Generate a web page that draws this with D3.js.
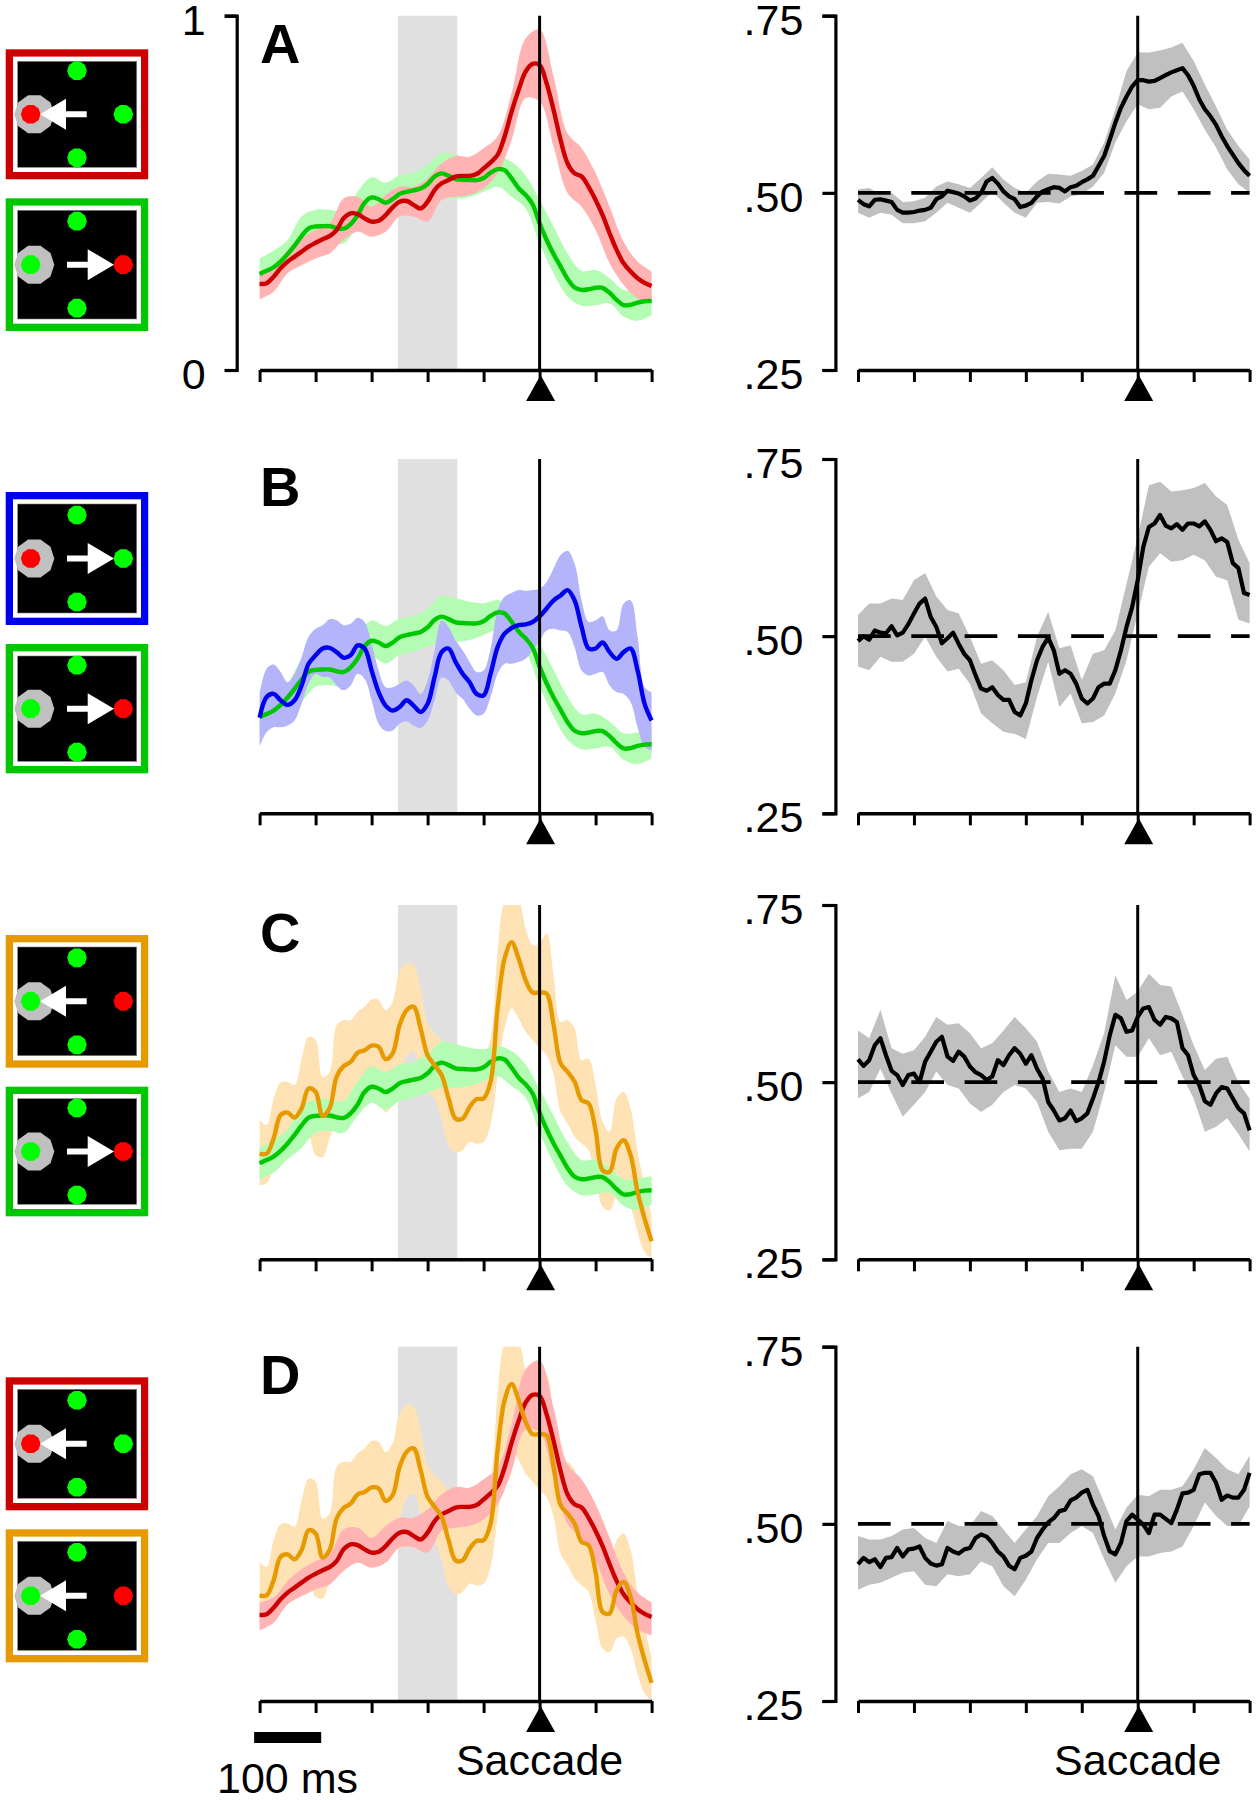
<!DOCTYPE html>
<html>
<head>
<meta charset="utf-8">
<script src="https://cdn.jsdelivr.net/npm/d3@7"></script>
<style>
html, body { margin: 0; padding: 0; background: #fff; }
svg { display: block; }
text { font-family: "Liberation Sans", Arial, sans-serif; fill: #000; }
</style>
</head>
<body>
<svg id="chart" width="1257" height="1800"></svg>
<script>
// time is in tick units, saccade onset = 0
var tickValues = [-5, -4, -3, -2, -1, 0, 1, 2];
var shadeStart = -2.53, shadeEnd = -1.47;
var barStart = -5.098, barEnd = -3.9;
var leftTicks = [0, 1], leftLabels = ["0", "1"];
var rightTicks = [0.25, 0.5, 0.75], rightLabels = [".25", ".50", ".75"];
var letters = ["A", "B", "C", "D"];

var greenMean = [.271,.280,.290,.306,.327,.351,.378,.400,.405,.406,.406,.401,.399,.412,.437,.472,.487,.482,.472,.482,.497,.503,.507,.512,.525,.546,.555,.548,.539,.537,.536,.536,.542,.557,.567,.564,.541,.513,.494,.468,.414,.367,.327,.292,.257,.233,.226,.228,.232,.232,.218,.198,.183,.184,.190,.194,.195];
var greenHi = [.315,.337,.367,.433,.452,.452,.447,.503,.544,.529,.550,.557,.579,.613,.607,.597,.593,.602,.588,.550,.480,.405,.329,.280,.282,.259,.226,.228,.235];
var greenLo = [.226,.245,.282,.315,.357,.362,.357,.405,.442,.423,.447,.456,.470,.484,.484,.489,.503,.517,.489,.456,.357,.273,.207,.181,.183,.188,.151,.139,.155];

var redMean = [.243,.245,.263,.287,.306,.320,.334,.348,.359,.369,.378,.395,.428,.442,.440,.428,.419,.421,.437,.459,.475,.477,.466,.456,.475,.508,.527,.536,.546,.548,.548,.553,.569,.586,.607,.659,.729,.790,.842,.864,.861,.809,.734,.649,.583,.555,.546,.517,.480,.437,.386,.339,.301,.278,.259,.246,.237];
var redHi = [.278,.292,.339,.372,.395,.414,.484,.489,.461,.494,.517,.517,.541,.583,.604,.602,.626,.659,.781,.936,.961,.828,.668,.626,.555,.461,.362,.306,.278];
var redLo = [.199,.221,.273,.296,.315,.329,.367,.390,.376,.390,.433,.433,.419,.480,.489,.494,.513,.555,.649,.767,.757,.630,.499,.461,.395,.301,.240,.202,.186];

var blueMean = [.270,.328,.337,.319,.306,.319,.361,.422,.446,.465,.467,.455,.439,.446,.474,.465,.403,.342,.304,.290,.300,.319,.304,.286,.309,.385,.455,.465,.427,.394,.370,.337,.333,.394,.469,.507,.523,.531,.533,.540,.556,.578,.601,.615,.630,.601,.526,.465,.465,.482,.455,.436,.455,.465,.403,.309,.262];
var blueHi = [.337,.408,.420,.399,.370,.394,.441,.498,.521,.531,.548,.545,.531,.535,.552,.540,.479,.403,.356,.356,.366,.375,.361,.337,.375,.460,.545,.526,.488,.460,.427,.399,.403,.465,.573,.611,.622,.630,.628,.630,.634,.653,.691,.729,.741,.705,.601,.540,.545,.556,.516,.516,.592,.601,.498,.356,.342];
var blueLo = [.189,.229,.243,.243,.248,.262,.309,.366,.394,.385,.383,.361,.347,.361,.394,.380,.319,.253,.232,.234,.253,.260,.248,.241,.262,.319,.383,.375,.342,.323,.295,.276,.281,.328,.394,.422,.422,.427,.436,.460,.488,.516,.521,.516,.512,.469,.403,.389,.394,.399,.361,.342,.337,.314,.243,.187,.177];

var orangeMean = [.298,.298,.341,.407,.414,.400,.426,.482,.473,.405,.426,.515,.545,.557,.583,.590,.603,.600,.565,.581,.661,.703,.713,.652,.576,.548,.520,.454,.397,.397,.430,.452,.454,.501,.708,.849,.895,.849,.788,.753,.753,.750,.661,.553,.529,.501,.449,.440,.364,.251,.247,.313,.336,.294,.190,.115,.051];
var orangeHi = [.393,.379,.454,.499,.501,.492,.567,.628,.619,.515,.529,.661,.675,.675,.699,.713,.734,.732,.703,.727,.812,.835,.831,.765,.666,.637,.619,.586,.492,.501,.572,.581,.576,.623,.868,1.009,1.028,1.014,.934,.887,.892,.920,.802,.670,.675,.652,.562,.567,.492,.388,.360,.454,.473,.426,.303,.209,.124];
var orangeLo = [.209,.214,.256,.313,.327,.313,.331,.346,.294,.289,.341,.397,.416,.430,.444,.444,.454,.440,.416,.435,.510,.572,.586,.529,.473,.454,.397,.322,.301,.308,.331,.326,.331,.379,.520,.652,.708,.680,.642,.619,.595,.576,.520,.416,.383,.346,.327,.308,.228,.148,.138,.176,.181,.148,.077,.021,.002];

var prefA = [.490,.484,.481,.490,.491,.489,.487,.476,.472,.472,.473,.475,.476,.479,.491,.495,.503,.501,.499,.495,.489,.492,.500,.516,.521,.513,.502,.495,.491,.480,.482,.486,.495,.502,.505,.508,.507,.502,.508,.510,.515,.519,.524,.538,.552,.575,.599,.620,.636,.650,.659,.659,.657,.658,.662,.666,.670,.673,.676,.666,.651,.632,.618,.608,.596,.580,.566,.554,.542,.532,.524];
var prefAHi = [.505,.507,.498,.500,.487,.488,.493,.509,.516,.512,.507,.521,.536,.519,.507,.500,.516,.527,.526,.524,.531,.540,.571,.618,.672,.698,.698,.701,.705,.712,.686,.653,.622,.589,.566,.547];
var prefALo = [.472,.465,.472,.469,.457,.457,.460,.472,.486,.479,.472,.486,.502,.486,.472,.465,.486,.487,.485,.495,.498,.509,.528,.571,.601,.625,.618,.620,.636,.643,.618,.589,.564,.533,.512,.500];

var prefB = [.493,.500,.495,.508,.505,.504,.514,.501,.505,.517,.532,.546,.553,.527,.513,.490,.497,.505,.489,.475,.466,.445,.426,.423,.428,.417,.410,.410,.393,.388,.405,.438,.466,.485,.498,.480,.447,.452,.447,.433,.412,.405,.412,.428,.433,.433,.452,.480,.513,.541,.579,.626,.654,.659,.671,.656,.652,.658,.650,.659,.659,.655,.662,.650,.634,.638,.633,.603,.596,.561,.558];
var prefBHi = [.530,.546,.546,.553,.551,.579,.589,.556,.537,.532,.499,.461,.466,.452,.431,.435,.499,.534,.483,.487,.438,.475,.480,.508,.574,.640,.713,.718,.704,.706,.709,.716,.697,.685,.636,.603];
var prefBLo = [.457,.452,.471,.464,.464,.475,.499,.471,.450,.454,.433,.391,.377,.365,.362,.355,.414,.464,.400,.419,.377,.379,.388,.419,.466,.532,.598,.617,.605,.607,.615,.607,.584,.579,.523,.518];

var prefC = [.532,.523,.531,.552,.562,.538,.516,.510,.496,.510,.512,.500,.529,.543,.557,.564,.536,.530,.543,.536,.522,.514,.510,.503,.508,.531,.524,.538,.548,.540,.526,.538,.519,.505,.472,.460,.446,.449,.460,.445,.449,.456,.477,.500,.529,.566,.595,.590,.571,.573,.592,.604,.606,.588,.581,.592,.590,.585,.548,.538,.510,.496,.473,.468,.484,.493,.491,.477,.463,.456,.432];
var prefCHi = [.573,.562,.602,.548,.540,.545,.564,.592,.581,.583,.569,.548,.555,.573,.592,.576,.557,.515,.486,.491,.486,.524,.569,.651,.616,.628,.653,.637,.635,.595,.552,.517,.533,.536,.500,.477];
var prefCLo = [.477,.486,.519,.484,.451,.468,.486,.515,.496,.491,.470,.458,.468,.486,.496,.491,.472,.430,.404,.406,.406,.430,.486,.552,.536,.536,.562,.538,.543,.508,.477,.430,.437,.449,.427,.402];

var prefD = [.443,.452,.446,.450,.439,.452,.453,.466,.454,.464,.465,.468,.452,.444,.441,.443,.466,.461,.458,.464,.466,.480,.485,.482,.473,.461,.454,.441,.436,.452,.455,.461,.480,.492,.502,.508,.518,.520,.533,.537,.544,.548,.527,.511,.483,.461,.457,.473,.504,.513,.506,.499,.487,.513,.513,.507,.501,.520,.543,.544,.548,.570,.572,.572,.558,.534,.540,.537,.537,.548,.572];
var prefDHi = [.483,.478,.478,.483,.492,.494,.480,.473,.504,.497,.497,.518,.511,.492,.473,.492,.511,.539,.553,.570,.577,.567,.530,.492,.523,.541,.539,.548,.548,.553,.577,.607,.593,.577,.570,.596];
var prefDLo = [.407,.414,.417,.424,.431,.433,.414,.412,.429,.426,.429,.447,.440,.412,.398,.421,.450,.473,.473,.487,.497,.487,.450,.417,.440,.454,.454,.459,.461,.468,.497,.530,.511,.497,.497,.525];

var colors = { red: "#cc0000", green: "#00c800", blue: "#0000f0", orange: "#e69a00" };
var bandColors = { red: "#ffb3b3", green: "#b4fcb4", blue: "#b4b4fa", orange: "#ffe2b4" };
var shadeColor = "#e0e0e0", prefBand = "#c0c0c0";

var series = {
  red: [redMean, redHi, redLo],
  green: [greenMean, greenHi, greenLo],
  blue: [blueMean, blueHi, blueLo],
  orange: [orangeMean, orangeHi, orangeLo]
};
// draw order, first one goes underneath
var rowBands = [["green", "red"], ["green", "blue"], ["orange", "green"], ["orange", "red"]];
var rowLines = [["green", "red"], ["green", "blue"], ["green", "orange"], ["red", "orange"]];
var rowPref = [[prefA, prefAHi, prefALo], [prefB, prefBHi, prefBLo], [prefC, prefCHi, prefCLo], [prefD, prefDHi, prefDLo]];

var rowTops = [15.7, 459, 905, 1346.7];
var rowHeight = 354.3;

// border, left dot, right dot, arrow direction
var boxes = [
  { top: 49.3, h: 130, border: "red", left: "#ff0000", right: "#00ff00", dir: -1 },
  { top: 198.3, h: 132.7, border: "green", left: "#00ff00", right: "#ff0000", dir: 1 },
  { top: 492, h: 133, border: "blue", left: "#ff0000", right: "#00ff00", dir: 1 },
  { top: 644, h: 129.3, border: "green", left: "#00ff00", right: "#ff0000", dir: 1 },
  { top: 935, h: 132.7, border: "orange", left: "#00ff00", right: "#ff0000", dir: -1 },
  { top: 1086.7, h: 129.6, border: "green", left: "#00ff00", right: "#ff0000", dir: 1 },
  { top: 1377.3, h: 133, border: "red", left: "#ff0000", right: "#00ff00", dir: -1 },
  { top: 1529.3, h: 133, border: "orange", left: "#00ff00", right: "#ff0000", dir: -1 }
];

var svg = d3.select("#chart");
var xLeft = d3.scaleLinear().domain([-5, 2]).range([259.6, 651.6]);
var xRight = d3.scaleLinear().domain([-5, 2]).range([858, 1249.6]);

function tAt(i, n) { return -5 + 7 * i / (n - 1); }

function drawBand(g, x, y, hi, lo, fill, curve) {
  var area = d3.area()
    .x(function(d, i) { return x(tAt(i, hi.length)); })
    .y0(function(d, i) { return y(lo[i]); })
    .y1(function(d) { return y(d); })
    .curve(curve);
  g.append("path").attr("d", area(hi)).attr("fill", fill);
}

function drawLine(g, x, y, vals, stroke, curve, w) {
  var line = d3.line()
    .x(function(d, i) { return x(tAt(i, vals.length)); })
    .y(function(d) { return y(d); })
    .curve(curve);
  g.append("path").attr("d", line(vals))
    .attr("fill", "none").attr("stroke", stroke)
    .attr("stroke-width", w).attr("stroke-linejoin", "round");
}

function styleAxis(a, w) {
  a.selectAll("path, line").attr("stroke", "#000").attr("stroke-width", w).attr("fill", "none");
  a.selectAll("text").attr("font-size", 43).attr("fill", "#000");
}

function drawSaccade(g, x, y0, y1) {
  var cx = x(0);
  g.append("line").attr("x1", cx).attr("x2", cx).attr("y1", y0).attr("y2", y1)
    .attr("stroke", "#000").attr("stroke-width", 3);
  g.append("path")
    .attr("d", "M" + (cx + 1) + "," + (y1 + 4) + "L" + (cx + 15.5) + "," + (y1 + 30) + "L" + (cx - 13.5) + "," + (y1 + 30) + "Z")
    .attr("fill", "#000");
}

function xAxis(g, x, yBottom) {
  var a = g.append("g").attr("transform", "translate(0," + yBottom + ")")
    .call(d3.axisBottom(x).tickValues(tickValues).tickSize(12).tickSizeOuter(0).tickFormat(""));
  styleAxis(a, 3);
  a.select(".domain").attr("stroke-width", 3.4);
}

function yAxis(g, xPos, y, ticks, labels, size) {
  var a = g.append("g").attr("transform", "translate(" + xPos + ",0)")
    .call(d3.axisLeft(y).tickValues(ticks).tickSize(size).tickSizeOuter(size)
      .tickFormat(function(d, i) { return labels[i]; }));
  styleAxis(a, 3.2);
  a.selectAll("text").attr("x", -size - 19).attr("dy", 18.5);
}

rowTops.forEach(function(top, r) {
  var bottom = top + rowHeight;
  var yL = d3.scaleLinear().domain([0, 1]).range([bottom, top]);
  var yR = d3.scaleLinear().domain([0.25, 0.75]).range([bottom, top]);

  var left = svg.append("g");
  left.append("clipPath").attr("id", "clip" + r).append("rect")
    .attr("x", 256).attr("y", top).attr("width", 400).attr("height", rowHeight);
  left.append("rect").attr("x", xLeft(shadeStart)).attr("y", top)
    .attr("width", xLeft(shadeEnd) - xLeft(shadeStart)).attr("height", rowHeight)
    .attr("fill", shadeColor);
  var plot = left.append("g").attr("clip-path", "url(#clip" + r + ")");
  rowBands[r].forEach(function(name) {
    drawBand(plot, xLeft, yL, series[name][1], series[name][2], bandColors[name], d3.curveCatmullRom);
  });
  rowLines[r].forEach(function(name) {
    drawLine(plot, xLeft, yL, series[name][0], colors[name], d3.curveCatmullRom, 4.4);
  });
  xAxis(left, xLeft, bottom);
  drawSaccade(left, xLeft, top, bottom + 1);
  if (r == 0) yAxis(left, 236.7, yL, leftTicks, leftLabels, 12);
  left.append("text").text(letters[r]).attr("x", 260).attr("y", top + 47)
    .attr("font-size", 56).attr("font-weight", "bold");

  var right = svg.append("g");
  var pref = rowPref[r];
  drawBand(right, xRight, yR, pref[1], pref[2], prefBand, d3.curveLinear);
  right.append("line").attr("x1", xRight(-5)).attr("x2", xRight(2))
    .attr("y1", yR(0.5)).attr("y2", yR(0.5))
    .attr("stroke", "#000").attr("stroke-width", 3.8).attr("stroke-dasharray", "32.7,20.6");
  drawLine(right, xRight, yR, pref[0], "#000", d3.curveLinear, 4.2);
  xAxis(right, xRight, bottom);
  drawSaccade(right, xRight, top, bottom + 1);
  yAxis(right, 835.4, yR, rightTicks, rightLabels, 13);
});

// stimulus pictograms
var poly = d3.lineRadial().curve(d3.curveLinearClosed);
function octagon(g, cx, cy, rad, sides, fill) {
  var pts = d3.range(sides).map(function(i) { return [Math.PI / sides + i * 2 * Math.PI / sides, rad]; });
  g.append("path").attr("transform", "translate(" + cx + "," + cy + ")")
    .attr("d", poly(pts)).attr("fill", fill);
}

boxes.forEach(function(b) {
  var g = svg.append("g");
  var cy = b.top + b.h / 2;
  g.append("rect").attr("x", 5.7).attr("y", b.top).attr("width", 142.5).attr("height", b.h)
    .attr("fill", colors[b.border]);
  g.append("rect").attr("x", 13).attr("y", b.top + 7.3).attr("width", 128).attr("height", b.h - 14.6)
    .attr("fill", "#fff");
  g.append("rect").attr("x", 17.7).attr("y", b.top + 12).attr("width", 119).attr("height", b.h - 24)
    .attr("fill", "#000").attr("stroke", "#808080").attr("stroke-width", 0.6);
  octagon(g, 34.3, cy, 20, 10, "#c0c0c0");
  octagon(g, 77, cy - 43.5, 9.8, 10, "#00ff00");
  octagon(g, 77, cy + 43.5, 9.8, 10, "#00ff00");
  octagon(g, 30.7, cy, 9.8, 10, b.left);
  octagon(g, 123.3, cy, 9.8, 10, b.right);
  var arrow = b.dir < 0
    ? "M86.7," + (cy - 3) + "L66," + (cy - 3) + "L66," + (cy - 15.5) + "L40," + cy + "L66," + (cy + 15.5) + "L66," + (cy + 3) + "L86.7," + (cy + 3) + "Z"
    : "M67," + (cy - 3) + "L87.7," + (cy - 3) + "L87.7," + (cy - 15.5) + "L114," + cy + "L87.7," + (cy + 15.5) + "L87.7," + (cy + 3) + "L67," + (cy + 3) + "Z";
  g.append("path").attr("d", arrow).attr("fill", "#fff");
});

// scale bar and bottom labels
var lastBottom = rowTops[3] + rowHeight;
svg.append("rect").attr("x", xLeft(barStart)).attr("y", 1732)
  .attr("width", xLeft(barEnd) - xLeft(barStart)).attr("height", 11).attr("fill", "#000");
svg.append("text").text("100 ms").attr("x", 217).attr("y", 1793).attr("font-size", 43);
svg.append("text").text("Saccade").attr("x", xLeft(0)).attr("y", lastBottom + 74)
  .attr("font-size", 43).attr("text-anchor", "middle");
svg.append("text").text("Saccade").attr("x", xRight(0)).attr("y", lastBottom + 74)
  .attr("font-size", 43).attr("text-anchor", "middle");
</script>
</body>
</html>
